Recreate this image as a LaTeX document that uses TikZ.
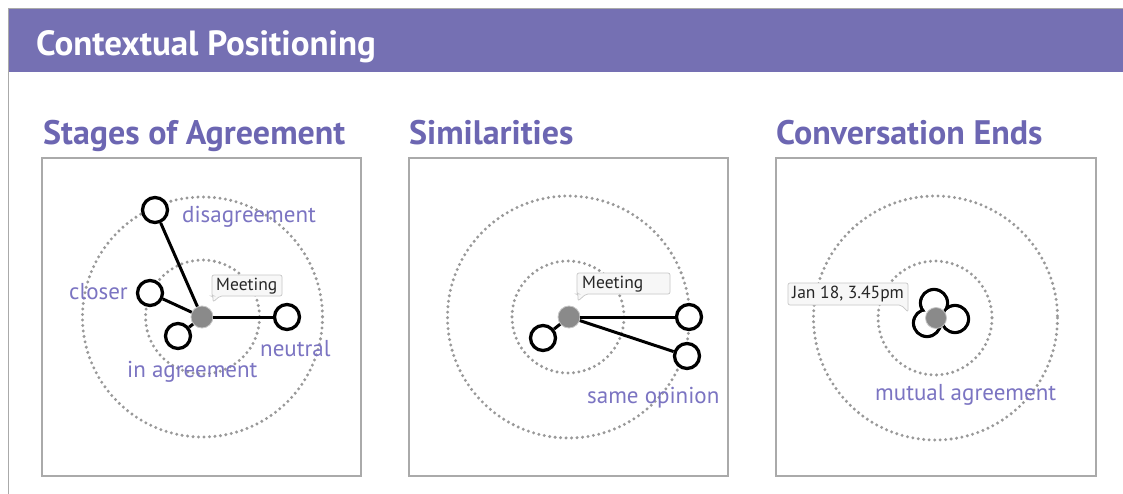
\documentclass[tikz,border=0pt]{standalone}
\usepackage{fontspec}
\setmainfont{PT Sans}
\definecolor{hdr}{HTML}{7570B3}
\definecolor{ttl}{HTML}{6C66B2}
\definecolor{lbl}{HTML}{7B74C2}
\definecolor{frame}{HTML}{AAAAAA}
\definecolor{dotc}{HTML}{999999}
\definecolor{ctr}{HTML}{8A8A8A}
\begin{document}
\begin{tikzpicture}[x=1pt,y=-1pt,
  panel/.style={draw=frame,line width=1.3pt},
  ring/.style={draw=dotc,line width=3.3pt,line cap=round,dash pattern=on 0pt off 5.5pt},
  member/.style={circle,draw=black,line width=3.3pt,fill=white,minimum size=25pt,inner sep=0pt},
  hub/.style={circle,fill=ctr,draw=gray!45,line width=0.8pt,minimum size=22pt,inner sep=0pt},
  link/.style={draw=black,line width=3pt},
  lab/.style={text=lbl,font=\fontsize{23}{23}\selectfont,inner sep=0pt},
  sect/.style={text=ttl,font=\fontsize{34}{34}\selectfont\bfseries,anchor=base west,inner sep=0pt},
  tiptext/.style={font=\fontsize{17.5}{17.5}\selectfont,text=black!85,inner sep=0pt},
  tip/.style={draw=black!22,fill=black!3,line width=0.7pt,rounded corners=2pt}
]
\useasboundingbox (0,0) rectangle (1123,494);
\fill[white] (0,0) rectangle (1123,494);
% frame lines and header
\draw[frame,line width=1pt] (8.5,494) -- (8.5,8.5) -- (1123,8.5);
\fill[hdr] (9,9) rectangle (1123,72);
\node[anchor=base west,inner sep=0pt,text=white,font=\fontsize{35}{35}\selectfont\bfseries] (title) at (36,56) {Contextual Positioning};

% section titles
\node[sect] (t1) at (43,145) {Stages of Agreement};
\node[sect] (t2) at (409,145) {Similarities};
\node[sect] (t3) at (776,145) {Conversation Ends};

% panels
\draw[panel] (42,158) rectangle (361,476);
\draw[panel] (409,158) rectangle (728,476);
\draw[panel] (776,158) rectangle (1096,476);

% ===== panel 1 =====
\draw[ring] (202.5,317) circle (120);
\draw[ring] (202.5,317) circle (57);
\node[hub] (h1) at (202,317) {};
\node[member] (dis) at (155,210) {};
\node[member] (clo) at (150,293) {};
\node[member] (agr) at (178,336) {};
\node[member] (neu) at (287,317) {};
\draw[link] (h1) -- (dis);
\draw[link] (h1) -- (clo);
\draw[link] (h1) -- (agr);
\draw[link] (h1) -- (neu);
\node[lab,anchor=west] (ldis) at (182,217) {disagreement};
\node[lab,anchor=east] (lclo) at (128,292) {closer};
\node[lab,anchor=west] (lneu) at (260,349) {neutral};
\node[lab,anchor=west] (lagr) at (127,372) {in agreement};
% tooltip 1
\draw[tip] (212,275) -- (282,275) -- (282,296) -- (220,296) -- (213,302) -- (213,296) -- (212,296) -- cycle;
\node[tiptext,anchor=west] (m1) at (216,286) {Meeting};

% ===== panel 2 =====
\draw[ring] (568.5,317) circle (121);
\draw[ring] (568,317) circle (56);
\node[hub] (h2) at (569,317) {};
\node[member] (s1) at (689,317) {};
\node[member] (s2) at (687,356) {};
\node[member] (s3) at (543,338) {};
\draw[link] (h2) -- (s1);
\draw[link] (h2) -- (s2);
\draw[link] (h2) -- (s3);
\node[lab,anchor=west] (lsame) at (587,398) {same opinion};
\draw[tip] (577,273) -- (670,273) -- (670,294) -- (586,294) -- (578,301) -- (578,294) -- (577,294) -- cycle;
\node[tiptext,anchor=west] (m2) at (582,284) {Meeting};

% ===== panel 3 =====
\draw[ring] (935.5,318) circle (122);
\draw[ring] (935,318) circle (57);
\coordinate (lobeA) at (934,303);
\coordinate (lobeB) at (927,323);
\coordinate (lobeC) at (955,319);
\foreach \c in {lobeA,lobeB,lobeC} \draw[black,line width=3.3pt] (\c) circle (13.5);
\foreach \c in {lobeA,lobeB,lobeC} \fill[white] (\c) circle (11.85);
\node[hub,minimum size=21pt] (h3) at (936,318) {};
\node[lab,anchor=west] (lmut) at (875,395) {mutual agreement};
\draw[tip] (788,283) -- (908,283) -- (908,312) -- (901,305) -- (788,305) -- cycle;
\node[tiptext,anchor=west] (jan) at (792,294) {Jan 18, 3.45pm};
\end{tikzpicture}
\end{document}
